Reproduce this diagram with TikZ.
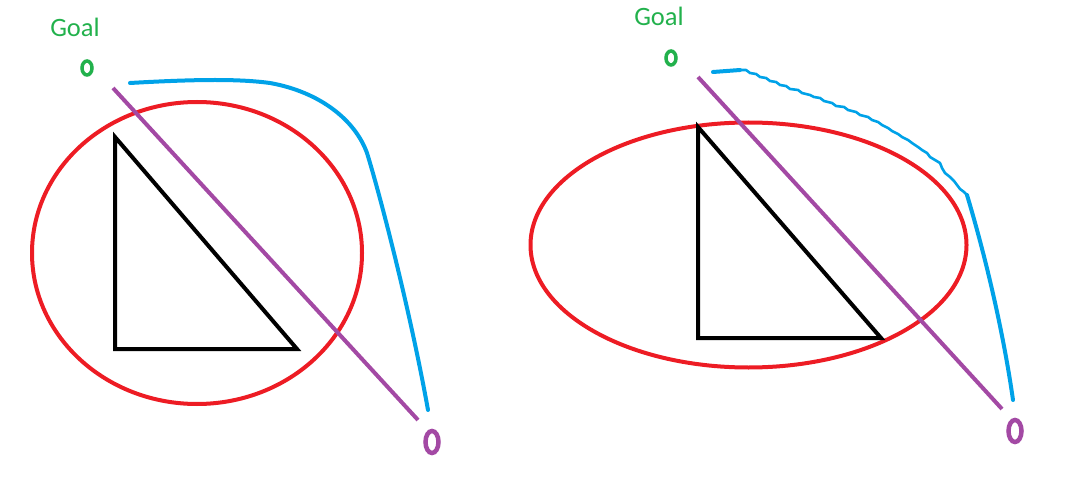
\documentclass[tikz,border=0pt]{standalone}
\usepackage{fontspec}
\setsansfont{Carlito}
\definecolor{pgreen}{RGB}{34,177,76}
\definecolor{pred}{RGB}{237,28,36}
\definecolor{pblue}{RGB}{0,162,232}
\definecolor{ppurple}{RGB}{163,73,164}
\tikzset{
  goaltext/.style={text=pgreen, font=\sffamily\fontsize{26.5}{30}\selectfont, inner sep=0pt, anchor=base},
  goalmark/.style={draw=pgreen, line width=3.5pt},
  startmark/.style={draw=ppurple, line width=4.5pt},
  obstacle/.style={draw=black, line width=4pt, line join=miter},
  region/.style={draw=pred, line width=4pt},
  direct/.style={draw=ppurple, line width=4pt},
  pathline/.style={draw=pblue, line width=4pt, line cap=round, line join=round}
}
\begin{document}
\begin{tikzpicture}[x=1pt,y=-1pt]
\useasboundingbox (0,0) rectangle (1073,481);
% ---------- left panel ----------
\node[goaltext] (goalL) at (75,37) {Goal};
\draw[goalmark] (87,68) ellipse [x radius=5pt, y radius=7pt];
\draw[region] (197,253) ellipse [x radius=165pt, y radius=151pt];
\draw[obstacle] (115,137) -- (115,349) -- (297,349) -- cycle;
\draw[direct] (113,88) -- (418,420);
\draw[pathline] (130,83) .. controls (200,79) and (240,79) .. (270,83)
  .. controls (320,92) and (355,120) .. (367,153)
  .. controls (380,195) and (410,310) .. (428,410);
\draw[startmark] (432,442) ellipse [x radius=6.5pt, y radius=11pt];
% ---------- right panel ----------
\node[goaltext] (goalR) at (659,26) {Goal};
\draw[goalmark] (671,58) ellipse [x radius=5pt, y radius=7pt];
\draw[region] (748.5,245) ellipse [x radius=218pt, y radius=122.5pt];
\draw[obstacle] (698,127) -- (698,338) -- (881,338) -- cycle;
\draw[direct] (698,77) -- (1002,409);
\draw[pathline, line width=4pt] (713,72) -- (740,70);
\draw[pathline, line width=2.6pt]
  plot coordinates {(740,70)(746,70)(750,73)(756,74)(760,77)(766,78)(770,81)(776,82)(780,85)(786,86)(790,89)(798,90)(802,93)(810,95)(814,97)(820,98)(824,101)(832,103)(836,106)(844,107)(848,110)(856,112)(860,115)(868,117)(872,120)(878,122)(882,125)(888,128)(892,131)(898,134)(902,137)(908,140)(912,143)(918,147)(922,150)(927,153)(930,157)(935,160)(940,163)(942,168)(945,173)(950,177)(954,181)(957,185)(960,189)(964,192)(967,195)};
\draw[pathline, line width=4pt] (967,195) .. controls (985,255) and (1003,330) .. (1013,400);
\draw[startmark] (1015,431) ellipse [x radius=6.5pt, y radius=11pt];
\end{tikzpicture}
\end{document}
